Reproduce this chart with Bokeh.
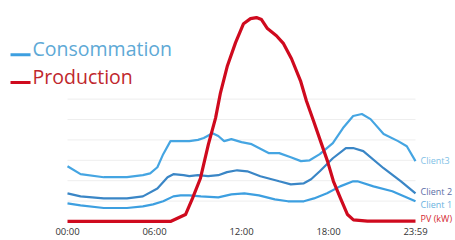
from bokeh.plotting import figure
from bokeh.models import Range1d, FixedTicker
from bokeh.core.properties import value
from bokeh.embed import file_html
from bokeh.resources import INLINE

# ---- data (hours of day, kW) ----
pv_hours = [0, 7.10, 8.14, 8.62, 9.17, 9.72, 10.21, 10.55, 11.03, 11.59, 12.14, 12.62, 13.03,
            13.38, 13.79, 14.41, 14.90, 15.45, 16.07, 16.48, 16.97, 17.45, 17.93, 18.34, 18.83,
            19.31, 19.72, 20.69, 24]
pv_values = [0, 0, 0.34, 1.13, 2.12, 3.79, 5.07, 6.31, 7.64, 8.77, 9.70, 9.95, 10.0,
             9.90, 9.46, 9.11, 8.72, 7.98, 6.90, 5.91, 4.93, 3.94, 2.96, 1.97, 1.13,
             0.34, 0.08, 0.02, 0.02]

client3_hours = [0, 0.9, 2.5, 4.1, 5.2, 5.7, 6.2, 6.6, 7.1, 8.4, 9.0, 9.4, 10.0, 10.4, 10.8,
                 11.3, 12.0, 12.7, 13.9, 14.6, 15.4, 16.1, 16.7, 17.4, 18.3, 19.0, 19.7, 20.3,
                 20.9, 21.8, 22.8, 23.4, 24]
client3_values = [2.71, 2.32, 2.17, 2.17, 2.27, 2.36, 2.66, 3.30, 3.94, 3.94, 4.0, 4.09, 4.33,
                  4.19, 3.94, 4.04, 3.89, 3.79, 3.35, 3.35, 3.15, 2.96, 3.0, 3.30, 3.84, 4.58,
                  5.17, 5.27, 5.02, 4.29, 3.94, 3.69, 2.96]

client2_hours = [0, 0.9, 2.5, 4.1, 5.2, 6.2, 6.9, 7.3, 8.0, 8.4, 9.0, 9.7, 10.4, 11.0, 11.7,
                 12.4, 13.3, 14.6, 15.4, 16.3, 16.8, 17.4, 18.3, 19.2, 19.7, 20.4, 21.8, 23.0, 24]
client2_values = [1.38, 1.23, 1.13, 1.13, 1.23, 1.62, 2.17, 2.32, 2.27, 2.22, 2.27, 2.22, 2.27,
                  2.42, 2.51, 2.46, 2.22, 1.97, 1.82, 1.87, 2.07, 2.46, 3.10, 3.60, 3.60, 3.45,
                  2.61, 1.97, 1.38]

client1_hours = [0, 0.9, 2.5, 4.1, 5.2, 5.9, 6.6, 7.3, 7.8, 8.4, 9.2, 10.4, 11.3, 12.2, 13.2,
                 14.3, 15.2, 16.3, 17.0, 17.9, 18.8, 19.7, 20.0, 21.1, 22.4, 24]
client1_values = [0.89, 0.79, 0.66, 0.66, 0.74, 0.84, 0.99, 1.23, 1.28, 1.28, 1.23, 1.18, 1.33,
                  1.38, 1.28, 1.08, 0.99, 0.99, 1.13, 1.38, 1.72, 1.97, 1.97, 1.72, 1.48, 0.99]

tick_hours = [0, 6, 12, 18, 24]
tick_labels = ["00:00", "06:00", "12:00", "18:00", "23:59"]
grid_values = [1, 2, 3, 4, 5, 6]

series_labels = ["Client3", "Client 2", "Client 1", "PV (kW)"]
series_label_values = [3.0, 1.48, 0.84, 0.15]
legend_labels = ["Consommation", "Production"]

# ---- styles ----
C3 = "#45a5e2"
C2 = "#3a86c6"
C1 = "#3d9fe0"
RED = "#cf0a1e"
label_colors = ["#7fbfe6", "#5b6ea6", "#6ab3e0", "#d42a32"]

FONT = "Open Sans"

p = figure(width=455, height=240,
           x_range=Range1d(-4.621, 26.759), y_range=Range1d(-0.10, 10.837),
           output_backend="svg", toolbar_location=None, min_border=0)
p.outline_line_color = None
p.background_fill_color = "white"
p.border_fill_color = "white"
p.xgrid.visible = False
p.ygrid.visible = False
p.yaxis.visible = False

ax = p.xaxis[0]
ax.ticker = FixedTicker(ticks=tick_hours)
ax.major_label_overrides = {h: t for h, t in zip(tick_hours, tick_labels)}
ax.axis_line_color = None
ax.major_tick_line_color = None
ax.minor_tick_line_color = None
ax.major_tick_out = 0
ax.major_tick_in = 0
ax.major_label_standoff = 1
ax.major_label_text_font = FONT
ax.major_label_text_font_size = "9.5px"
ax.major_label_text_color = "#333333"

# grid lines
p.segment(x0=[0] * len(grid_values), x1=[24] * len(grid_values),
          y0=grid_values, y1=grid_values, line_color="#eeeeee", line_width=1)

# series
p.line(client1_hours, client1_values, line_color=C1, line_width=2.2)
p.line(client2_hours, client2_values, line_color=C2, line_width=2.2)
p.line(client3_hours, client3_values, line_color=C3, line_width=2.2)
p.line(pv_hours, pv_values, line_color=RED, line_width=3.2, line_join="round")

# right-side labels
p.text(x=[24.35] * len(series_labels), y=series_label_values, text=series_labels,
       text_color=label_colors, text_font=value(FONT), text_font_size="9px",
       text_baseline="middle", text_align="left")

# legend (top-left)
p.segment(x0=[-3.93, -3.93], x1=[-2.55, -2.55], y0=[8.18, 6.82], y1=[8.18, 6.82],
          line_color=[C1, RED], line_width=3)
p.text(x=[-2.41, -2.41], y=[8.48, 7.10], text=legend_labels,
       text_color=["#5ea9d6", "#c0272d"], text_font=value(FONT), text_font_size="19.5px",
       text_baseline="alphabetic", text_align="left")

open("out.html", "w").write(file_html(p, INLINE))
